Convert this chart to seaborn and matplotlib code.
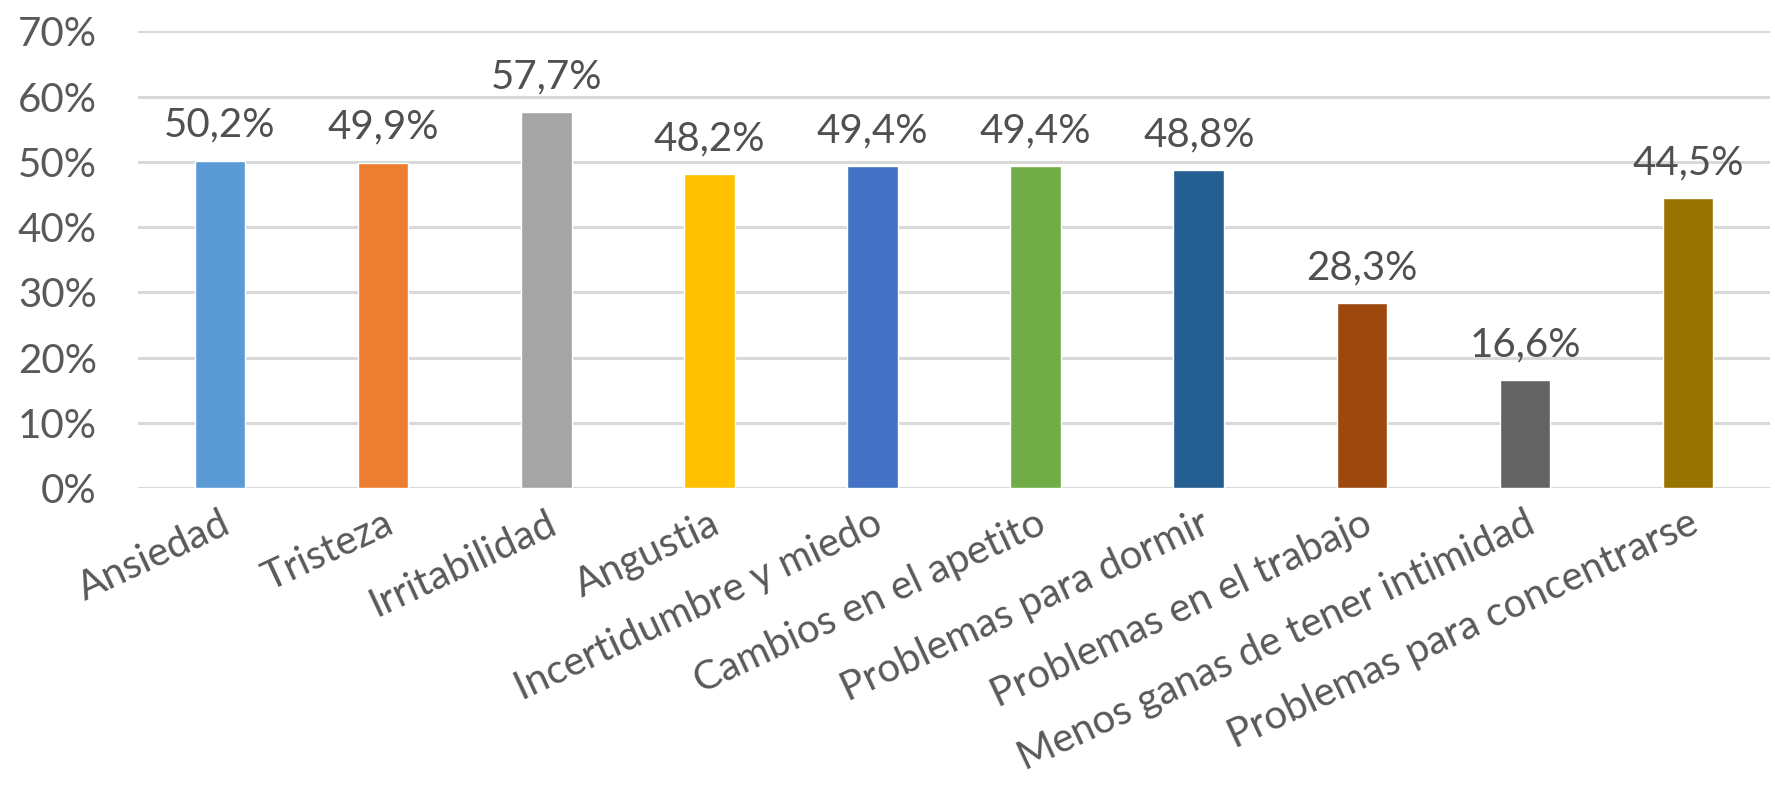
import matplotlib
matplotlib.use("Agg")
import matplotlib.pyplot as plt
import seaborn as sns
import pandas as pd

categories = ["Ansiedad", "Tristeza", "Irritabilidad", "Angustia",
              "Incertidumbre y miedo", "Cambios en el apetito",
              "Problemas para dormir", "Problemas en el trabajo",
              "Menos ganas de tener intimidad", "Problemas para concentrarse"]
values = [0.502, 0.499, 0.577, 0.482, 0.494, 0.494, 0.488, 0.283, 0.166, 0.445]
colors = ["#5B9BD5", "#ED7D31", "#A5A5A5", "#FFC000", "#4472C4",
          "#70AD47", "#255E91", "#9E480E", "#636363", "#997300"]
yticks = [0, 0.1, 0.2, 0.3, 0.4, 0.5, 0.6, 0.7]
ytick_labels = ["0%", "10%", "20%", "30%", "40%", "50%", "60%", "70%"]

sns.set_style("white")
plt.rcParams['font.family'] = ['Lato', 'DejaVu Sans']

df = pd.DataFrame({"cat": categories, "val": values})

fig, ax = plt.subplots(figsize=(17.75, 7.86), dpi=100)
fig.subplots_adjust(left=0.078, right=0.997, bottom=0.379, top=0.96)

sns.barplot(data=df, x="cat", y="val", hue="cat", palette=colors,
            legend=False, width=0.31, ax=ax, saturation=1)

ax.set_ylim(0, 0.7)
ax.set_yticks(yticks)
ax.set_yticklabels(ytick_labels, fontsize=29, color="#595959")
ax.yaxis.grid(True, color="#D9D9D9", linewidth=2.2)
ax.set_axisbelow(True)
ax.tick_params(axis="both", length=0)
ax.tick_params(axis="y", pad=30)
ax.tick_params(axis="x", pad=12)
ax.set_xlabel("")
ax.set_ylabel("")
for s in ax.spines.values():
    s.set_visible(False)

ax.set_xticks(range(len(categories)))
ax.set_xticklabels(categories, rotation=25, ha="right", rotation_mode="anchor",
                   fontsize=29, color="#595959")

for c in ax.containers:
    ax.bar_label(c, labels=[f"{v*100:.1f}%".replace(".", ",") for v in c.datavalues],
                 padding=12, fontsize=29, color="#505050")

fig.savefig("out.png", dpi=100)
